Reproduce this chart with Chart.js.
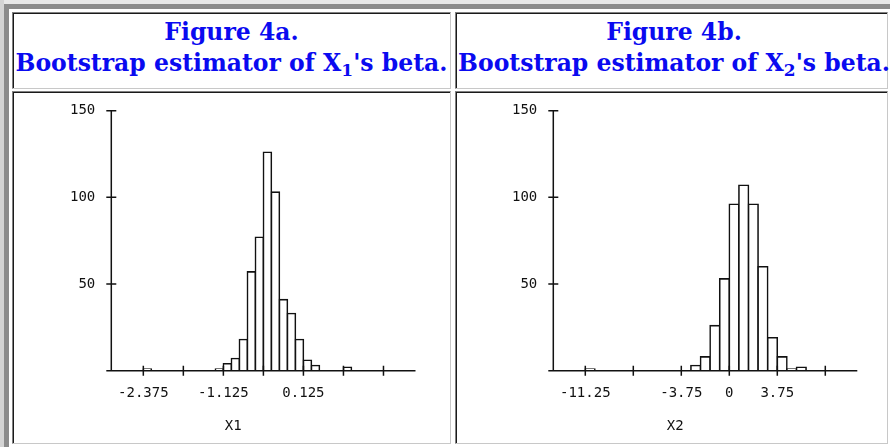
<!DOCTYPE html>
<html>
<head>
<meta charset="utf-8">
<script src="https://cdn.jsdelivr.net/npm/chart.js@4.4.0/dist/chart.umd.min.js"></script>
<style>
  body { margin: 0; background: #fff; width: 890px; height: 447px; overflow: hidden; position: relative; }
  .band { position: absolute; }
  .cell {
    position: absolute; box-sizing: border-box;
    border: 1px solid; border-color: #808080 #c8c8c8 #c8c8c8 #808080;
    box-shadow: inset 1px 1px 0 #1a1a1a;
  }
  .head {
    display: flex; align-items: center; justify-content: center; text-align: center;
    padding-bottom: 6px;
    font-family: "DejaVu Serif", serif;
    font-weight: bold; font-size: 23.5px; line-height: 31px; color: #0a0af0;
    white-space: nowrap;
  }
  .head sub { font-size: 17px; vertical-align: -5px; line-height: 0; }
  canvas { position: absolute; }
</style>
</head>
<body>
  <div class="band" style="left:0;top:0;width:890px;height:4px;background:#e8e8e8"></div>
  <div class="band" style="left:0;top:0;width:4px;height:447px;background:#d4d4d4"></div>
  <div class="band" style="left:4px;top:4px;width:886px;height:5px;background:#8c8c8c"></div>
  <div class="band" style="left:4px;top:4px;width:5px;height:443px;background:#8c8c8c"></div>

  <div class="cell head" style="left:12px;top:12px;width:439px;height:77px"><div>Figure 4a.<br>Bootstrap estimator of X<sub>1</sub>'s beta.</div></div>
  <div class="cell head" style="left:455px;top:12px;width:433px;height:77px;padding-left:5px"><div>Figure 4b.<br>Bootstrap estimator of X<sub>2</sub>'s beta.</div></div>
  <div class="cell" style="left:12px;top:91px;width:439px;height:353px"></div>
  <div class="cell" style="left:455px;top:91px;width:433px;height:353px"></div>

  <canvas id="chart1" width="436" height="349" style="left:14px;top:93px"></canvas>
  <canvas id="chart2" width="429" height="349" style="left:457px;top:93px"></canvas>

<script>
// histogram bins (bin centres) and counts
const x1Centers = [-2.3125, -1.1875, -1.0625, -0.9375, -0.8125, -0.6875, -0.5625, -0.4375, -0.3125, -0.1875, -0.0625, 0.0625, 0.1875, 0.3125, 0.8125];
const x1Counts  = [1, 1, 4, 7, 18, 57, 77, 126, 103, 41, 33, 18, 6, 3, 2];
const x1TickValues = [-2.375, -1.75, -1.125, -0.5, 0.125, 0.75, 1.375];
const x1TickLabels = ['-2.375', '', '-1.125', '', '0.125', '', ''];

const x2Centers = [-10.875, -2.625, -1.875, -1.125, -0.375, 0.375, 1.125, 1.875, 2.625, 3.375, 4.125, 4.875, 5.625];
const x2Counts  = [1, 3, 8, 26, 53, 96, 107, 96, 60, 19, 8, 1, 2];
const x2TickValues = [-11.25, -7.5, -3.75, 0, 3.75, 7.5];
const x2TickLabels = ['-11.25', '', '-3.75', '0', '3.75', ''];

const yTickValues = [50, 100, 150];
const axisNames = ['X1', 'X2'];

const tickFont = { family: 'DejaVu Sans Mono', size: 14 };
const ink = '#111';

// axis lines with ticks crossing both sides, plus the axis name under the plot
const axesPlugin = {
  id: 'axes',
  afterDatasetsDraw(chart, args, opts) {
    const { ctx, chartArea: a, scales: { x, y } } = chart;
    ctx.save();
    ctx.strokeStyle = ink;
    ctx.lineWidth = 1.5;
    ctx.beginPath();
    ctx.moveTo(a.left - 5, a.bottom);
    ctx.lineTo(a.right, a.bottom);
    ctx.moveTo(a.left, a.top);
    ctx.lineTo(a.left, a.bottom);
    x.ticks.forEach(t => {
      const px = x.getPixelForValue(t.value);
      ctx.moveTo(px, a.bottom - 5);
      ctx.lineTo(px, a.bottom + 5);
    });
    y.ticks.forEach(t => {
      const py = y.getPixelForValue(t.value);
      ctx.moveTo(a.left - 5, py);
      ctx.lineTo(a.left + 5, py);
    });
    ctx.stroke();
    ctx.fillStyle = ink;
    ctx.font = '14px "DejaVu Sans Mono"';
    ctx.textAlign = 'center';
    ctx.textBaseline = 'middle';
    ctx.fillText(opts.name, a.left + 122, a.bottom + 56);
    ctx.restore();
  }
};

function makeHist(id, centers, counts, range, tickValues, tickLabels, name, leftW, padRight) {
  const ctx = document.getElementById(id).getContext('2d');
  return new Chart(ctx, {
    type: 'bar',
    data: {
      datasets: [{
        data: centers.map((c, i) => ({ x: c, y: counts[i] })),
        backgroundColor: '#fff',
        borderColor: ink,
        borderWidth: 1.6,
        inflateAmount: 0.8,
        barPercentage: 1,
        categoryPercentage: 1
      }]
    },
    options: {
      responsive: false,
      animation: false,
      events: [],
      layout: { padding: { top: 17.7, right: padRight, left: 0, bottom: 0 } },
      scales: {
        x: {
          type: 'linear',
          min: range[0],
          max: range[1],
          offset: false,
          grid: { display: false, drawTicks: false, offset: false },
          border: { display: false },
          afterBuildTicks: s => { s.ticks = tickValues.map(v => ({ value: v })); },
          afterFit: s => {
            s.height = 71.3;
            s.paddingLeft = 0;
            s.paddingRight = 0;
          },
          ticks: {
            autoSkip: false,
            maxRotation: 0,
            padding: 14,
            color: ink,
            font: tickFont,
            callback: (v, i) => tickLabels[i]
          }
        },
        y: {
          min: 0,
          max: 150,
          grid: { display: false, drawTicks: false },
          border: { display: false },
          afterBuildTicks: s => { s.ticks = yTickValues.map(v => ({ value: v })); },
          afterFit: s => {
            s.width = leftW;
            s.paddingTop = 0;
            s.paddingBottom = 0;
          },
          ticks: { padding: 16, color: ink, font: tickFont }
        }
      },
      plugins: {
        legend: { display: false },
        tooltip: { enabled: false },
        axes: { name: name }
      }
    },
    plugins: [axesPlugin]
  });
}

makeHist('chart1', x1Centers, x1Counts, [-2.875, 1.875], x1TickValues, x1TickLabels, axisNames[0], 97.3, 34.5);
makeHist('chart2', x2Centers, x2Counts, [-13.75, 10], x2TickValues, x2TickLabels, axisNames[1], 96.3, 28.7);
</script>
</body>
</html>
